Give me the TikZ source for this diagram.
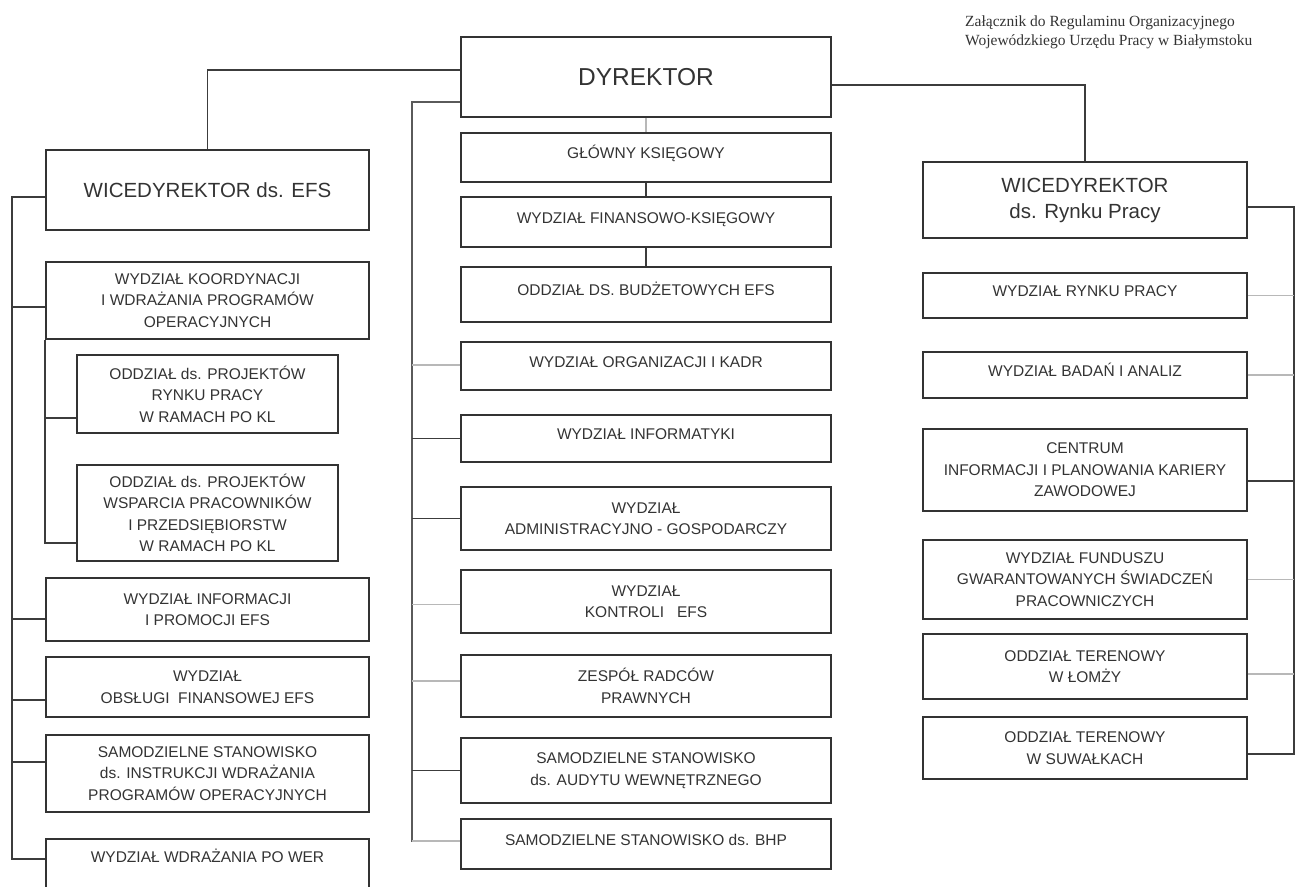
\documentclass[tikz,border=0pt]{standalone}
\usepackage{fontspec}
\setmainfont{Liberation Sans}
\newfontfamily\notefont{Liberation Serif}
\definecolor{ink}{HTML}{333333}
\definecolor{linkdark}{HTML}{3C3C3C}
\definecolor{linkmid}{HTML}{5A5A5A}
\definecolor{linklite}{HTML}{B8B8B8}
\tikzset{
  unit/.style={draw=ink, line width=1.8pt, rectangle, align=center, inner sep=0pt, text=ink, font=\fontsize{15.5}{21.5}\selectfont},
  one/.style={text height=12pt, text depth=10pt},
  chief/.style={unit, font=\fontsize{20.5}{26}\selectfont},
  dark/.style={draw=linkdark, line width=1.6pt},
  mid/.style={draw=linkmid, line width=1.6pt},
  lite/.style={draw=linklite, line width=1.6pt}
}
\begin{document}
\begin{tikzpicture}[x=1pt,y=-1pt]
\path[use as bounding box, clip] (0,0) rectangle (1298,886);

\node[anchor=north west, align=left, inner sep=0pt, text=ink, font=\notefont\fontsize{15.5}{19}\selectfont] (note) at (965,16) {Załącznik do Regulaminu Organizacyjnego\\Wojewódzkiego Urzędu Pracy w Białymstoku};

% dyrektor i pion centralny
\node[unit, minimum width=370pt, minimum height=80pt, font=\fontsize{24.5}{30}\selectfont] (dyr) at (646,77) {DYREKTOR};
\node[unit, one, minimum width=370pt, minimum height=49pt] (glowny) at (646,157.5) {GŁÓWNY KSIĘGOWY};
\node[unit, one, minimum width=370pt, minimum height=50pt] (fin) at (646,222) {WYDZIAŁ FINANSOWO-KSIĘGOWY};
\node[unit, one, minimum width=370pt, minimum height=55pt] (budz) at (646,294.5) {ODDZIAŁ DS. BUDŻETOWYCH EFS};
\node[unit, one, minimum width=370pt, minimum height=48pt] (org) at (646,366) {WYDZIAŁ ORGANIZACJI I KADR};
\node[unit, one, minimum width=370pt, minimum height=47pt] (inf) at (646,438.5) {WYDZIAŁ INFORMATYKI};
\node[unit, minimum width=370pt, minimum height=63pt] (adm) at (646,518.5) {WYDZIAŁ\\ADMINISTRACYJNO - GOSPODARCZY};
\node[unit, minimum width=370pt, minimum height=63pt] (kon) at (646,601.5) {WYDZIAŁ\\KONTROLI \ \ EFS};
\node[unit, minimum width=370pt, minimum height=62pt] (zesp) at (646,686) {ZESPÓŁ RADCÓW\\PRAWNYCH};
\node[unit, minimum width=370pt, minimum height=65pt] (aud) at (646,770.5) {SAMODZIELNE STANOWISKO\\ds. AUDYTU WEWNĘTRZNEGO};
\node[unit, one, minimum width=370pt, minimum height=50pt] (bhp) at (646,844) {SAMODZIELNE STANOWISKO ds. BHP};

% pion EFS
\node[chief, minimum width=323pt, minimum height=80pt] (wefs) at (207.5,190) {WICEDYREKTOR ds. EFS};
\node[unit, minimum width=323pt, minimum height=77pt] (koord) at (207.5,300.5) {WYDZIAŁ KOORDYNACJI\\I WDRAŻANIA PROGRAMÓW\\OPERACYJNYCH};
\node[unit, minimum width=261pt, minimum height=78pt] (pokl1) at (207.5,394) {ODDZIAŁ ds. PROJEKTÓW\\RYNKU PRACY\\W RAMACH PO KL};
\node[unit, minimum width=261pt, minimum height=96pt] (pokl2) at (207.5,513) {ODDZIAŁ ds. PROJEKTÓW\\WSPARCIA PRACOWNIKÓW\\I PRZEDSIĘBIORSTW\\W RAMACH PO KL};
\node[unit, minimum width=323pt, minimum height=63pt] (prom) at (207.5,609.5) {WYDZIAŁ INFORMACJI\\I PROMOCJI EFS};
\node[unit, minimum width=323pt, minimum height=60pt] (obsl) at (207.5,687) {WYDZIAŁ\\OBSŁUGI \ FINANSOWEJ EFS};
\node[unit, minimum width=323pt, minimum height=77pt] (instr) at (207.5,773.5) {SAMODZIELNE STANOWISKO\\ds. INSTRUKCJI WDRAŻANIA\\PROGRAMÓW OPERACYJNYCH};
\node[unit, anchor=north, minimum width=323pt, text height=18pt, text depth=40pt, inner ysep=6pt] (wer) at (207.5,838) {WYDZIAŁ WDRAŻANIA PO WER};

% pion rynku pracy
\node[chief, minimum width=324pt, minimum height=76pt] (wrp) at (1085,200) {WICEDYREKTOR\\ds. Rynku Pracy};
\node[unit, one, minimum width=324pt, minimum height=45pt] (rynek) at (1085,295.5) {WYDZIAŁ RYNKU PRACY};
\node[unit, one, minimum width=324pt, minimum height=46pt] (badan) at (1085,375) {WYDZIAŁ BADAŃ I ANALIZ};
\node[unit, minimum width=324pt, minimum height=82pt] (centrum) at (1085,470) {CENTRUM\\INFORMACJI I PLANOWANIA KARIERY\\ZAWODOWEJ};
\node[unit, minimum width=324pt, minimum height=79pt] (fundusz) at (1085,579.5) {WYDZIAŁ FUNDUSZU\\GWARANTOWANYCH ŚWIADCZEŃ\\PRACOWNICZYCH};
\node[unit, minimum width=324pt, minimum height=65pt] (lomza) at (1085,666.5) {ODDZIAŁ TERENOWY\\W ŁOMŻY};
\node[unit, minimum width=324pt, minimum height=62pt] (suwalki) at (1085,748) {ODDZIAŁ TERENOWY\\W SUWAŁKACH};

\draw[dark] ([yshift=7pt]dyr.west) -| (wefs.north);
\draw[dark] ([yshift=-8pt]dyr.east) -| (wrp.north);
\draw[mid] ([yshift=-25pt]dyr.west) -- ++(-48,0) |- ([yshift=3pt]bhp.west);
\draw[lite] (dyr.south) -- (glowny.north);
\draw[dark] (glowny.south) -- (fin.north);
\draw[dark] (fin.south) -- (budz.north);
\foreach \n/\d/\s in {org/1/lite, inf/0/dark, adm/0/dark, kon/-3/lite, zesp/5/lite, aud/0/dark, bhp/3/lite}
  \draw[\s] ([yshift=\d pt]\n.west) -- ++(-48,0);

\draw[dark] ([yshift=-7pt]wefs.west) -- ++(-33,0) |- ([yshift=4pt]wer.west |- wer.base);
\foreach \n/\d in {koord/-6.5, prom/-9.5, obsl/-13, instr/11.5}
  \draw[dark] ([yshift=\d pt]\n.west) -- ++(-33,0);
\draw[dark] (koord.south west) |- ([yshift=-30pt]pokl2.west);
\draw[dark] ([yshift=-24pt]pokl1.west) -- ++(-31,0);

\draw[dark] ([yshift=-7pt]wrp.east) -- ++(46,0) |- ([yshift=-6pt]suwalki.east);
\foreach \n/\d/\s in {rynek/0/lite, badan/0/lite, centrum/-11/dark, fundusz/0/lite, lomza/-7.5/lite}
  \draw[\s] ([yshift=\d pt]\n.east) -- ++(46,0);
\end{tikzpicture}
\end{document}
